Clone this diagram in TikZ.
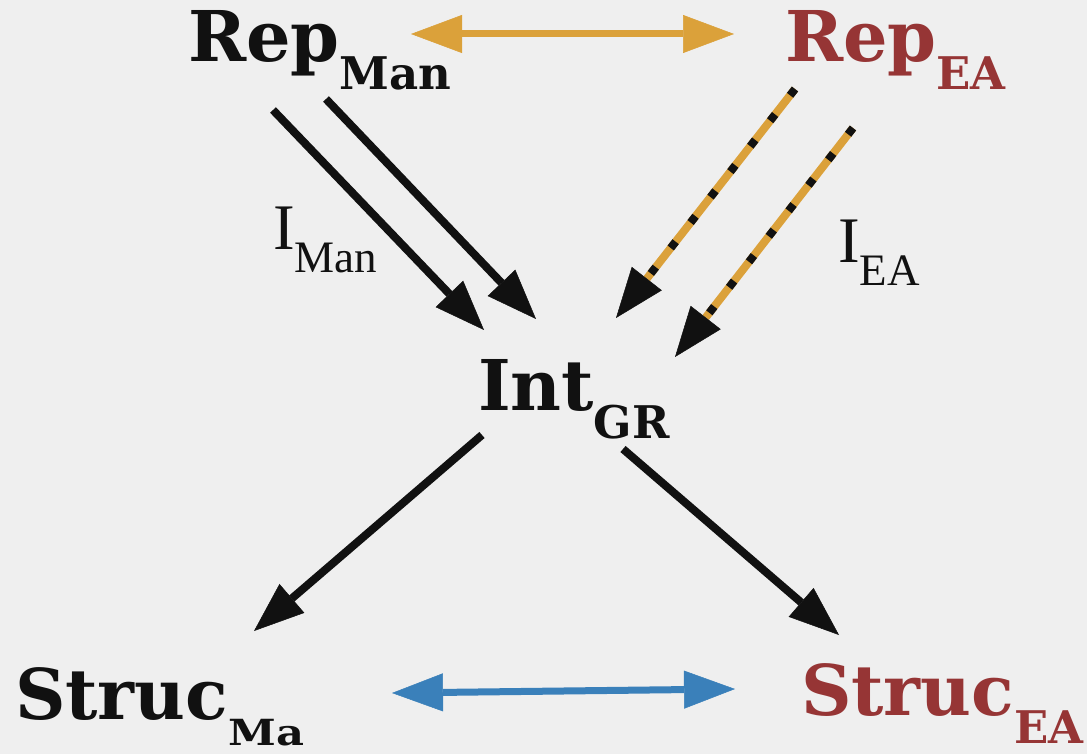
\documentclass[tikz,border=0pt]{standalone}
\usepackage{fontspec}
\usepackage{graphicx}
\setmainfont{DejaVu Serif}
\newfontfamily\labelfont{Liberation Serif}
\usetikzlibrary{arrows.meta}

\definecolor{bg}{HTML}{EFEFEF}
\definecolor{ochre}{HTML}{DBA13A}
\definecolor{steel}{HTML}{3A80BA}
\definecolor{wine}{HTML}{963535}
\definecolor{ink}{HTML}{111111}

% bold term with a lowered subscript
\newcommand\termtext[2]{{\fontsize{70}{70}\selectfont\bfseries #1}\raisebox{-28pt}{\fontsize{45}{45}\selectfont\bfseries #2}}
% regular interpretation label with a lowered subscript
\newcommand\interptext[2]{\labelfont{\fontsize{65}{65}\selectfont #1}\raisebox{-23pt}{\fontsize{45}{45}\selectfont #2}}

\tikzset{
  term/.style={anchor=base west, inner sep=0pt, outer sep=0pt},
  flow/.style={draw=ink, line width=8pt, -{Triangle[length=50pt, width=38pt, line width=0.5pt]}},
  ochreflow/.style={draw=ochre, line width=8pt, -{Triangle[length=50pt, width=38pt, line width=0.5pt, color=ink]}},
  ochredash/.style={draw=ink, line width=8pt, dash pattern=on 8pt off 24.3pt, shorten >=50pt},
  link/.style={line width=7pt, {Triangle[length=51pt, width=38pt, line width=0.5pt]}-{Triangle[length=51pt, width=38pt, line width=0.5pt]}}
}

\begin{document}
\begin{tikzpicture}[x=1pt, y=-1pt]
  \fill[bg] (0,0) rectangle (1087,754);
  \useasboundingbox (0,0) rectangle (1087,754);

  % terms
  \node[term, text=ink]  (repman)   at (188,62)  {\termtext{Rep}{Man}};
  \node[term, text=wine] (repea)    at (785,62)  {\termtext{Rep}{EA}};
  \node[term, text=ink]  (intgr)    at (478,410) {\termtext{Int}{GR}};
  \node[term, text=ink]  (strucma)  at (15,719)
    {{\fontsize{70}{70}\selectfont\bfseries Struc}\raisebox{-26pt}{\scalebox{1.2}[1]{\fontsize{36}{36}\selectfont\bfseries Ma}}};
  \node[term, text=wine] (strucea)  at (801,715) {\termtext{Struc}{EA}};

  % interpretation labels
  \node[term, text=ink] (iman) at (273,250) {\interptext{I}{Man}};
  \node[term, text=ink] (iea)  at (838,262) {\interptext{I}{EA}};

  % connector end points
  \coordinate (topL) at (411,34);
  \coordinate (topR) at (734,34);
  \coordinate (m1s) at (273,110);
  \coordinate (m1e) at (484,330);
  \coordinate (m2s) at (326,99);
  \coordinate (m2e) at (536,319);
  \coordinate (e1s) at (795,89);
  \coordinate (e1e) at (616,318);
  \coordinate (e2s) at (853,128);
  \coordinate (e2e) at (675,357);
  \coordinate (dLs) at (482,435);
  \coordinate (dLe) at (254,631);
  \coordinate (dRs) at (623,449);
  \coordinate (dRe) at (839,635);
  \coordinate (botL) at (392,693);
  \coordinate (botR) at (735,689);

  % correspondence between representations
  \draw[link, draw=ochre, fill=ochre] (topL) -- (topR);
  % correspondence between structures
  \draw[link, draw=steel, fill=steel] (botL) -- (botR);

  % manual interpretation
  \draw[flow] (m1s) -- (m1e);
  \draw[flow] (m2s) -- (m2e);

  % EA interpretation (striped)
  \draw[ochreflow] (e1s) -- (e1e);
  \draw[ochredash] (e1s) -- (e1e);
  \draw[ochreflow] (e2s) -- (e2e);
  \draw[ochredash] (e2s) -- (e2e);

  % from the interpretation to the structures
  \draw[flow] (dLs) -- (dLe);
  \draw[flow] (dRs) -- (dRe);
\end{tikzpicture}
\end{document}
